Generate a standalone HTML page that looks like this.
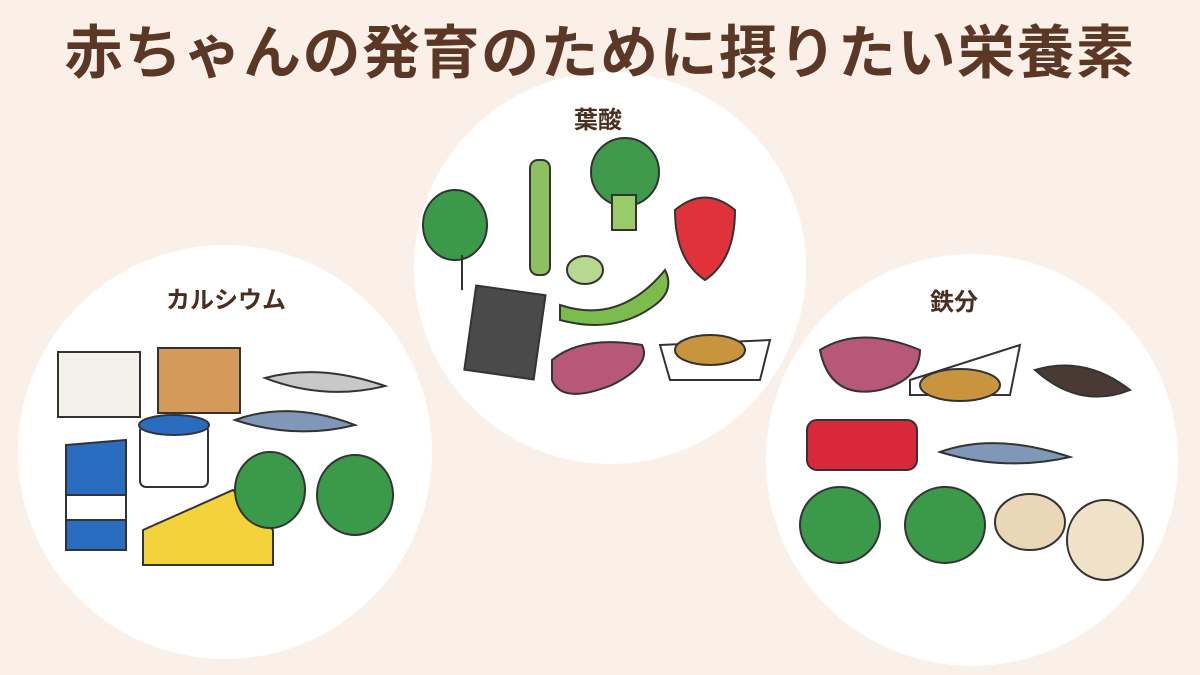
<!DOCTYPE html>
<html><head><meta charset="utf-8"><style>
html,body{margin:0;padding:0;}
body{width:1200px;height:675px;background:#fbf0e8;overflow:hidden;position:relative;font-family:"Liberation Sans","Noto Sans CJK JP",sans-serif;}
h1{position:absolute;top:14px;left:0;width:1200px;text-align:center;margin:0;font-size:58px;font-weight:bold;color:#5b3826;letter-spacing:1.5px;line-height:80px;}
svg{position:absolute;left:0;top:0;}
.lbl{font-family:"Liberation Sans","Noto Sans CJK JP",sans-serif;font-weight:bold;font-size:24px;fill:#4a2e20;}
</style></head><body>
<svg width="1200" height="675" viewBox="0 0 1200 675">
<circle cx="610" cy="268" r="196" fill="#fff"/>
<circle cx="225" cy="452" r="207" fill="#fff"/>
<circle cx="972" cy="460" r="206" fill="#fff"/>
<text class="lbl" x="598" y="128" text-anchor="middle">葉酸</text>
<text class="lbl" x="226" y="308" text-anchor="middle">カルシウム</text>
<text class="lbl" x="954" y="310" text-anchor="middle">鉄分</text>
<g stroke="#333" stroke-width="2">
<ellipse cx="455" cy="225" rx="32" ry="35" fill="#3a9a4a"/>
<line x1="462" y1="255" x2="462" y2="290"/>
<rect x="530" y="160" width="20" height="115" rx="8" fill="#8cc060"/>
<circle cx="625" cy="172" r="34" fill="#3e9a4a"/>
<rect x="612" y="195" width="24" height="35" fill="#9acb6a"/>
<path d="M675 210 q30-25 60 0 q0 50-30 70 q-30-20-30-70z" fill="#e0323a"/>
<ellipse cx="585" cy="270" rx="18" ry="14" fill="#b8d890"/>
<path d="M560 305 q60 20 105-35 q10 20-10 35 q-40 30-95 15z" fill="#7cbc4c"/>
<rect x="470" y="290" width="70" height="85" transform="rotate(8 505 332)" fill="#4a4a4a"/>
<path d="M552 360 q30-25 90-15 q10 20-30 40 q-50 20-60-5z" fill="#b85878"/>
<path d="M660 345 l110 -5 l-10 40 l-90 0z" fill="#fff"/>
<ellipse cx="710" cy="350" rx="35" ry="15" fill="#c8943e"/>
<rect x="58" y="352" width="82" height="65" fill="#f4f1ea"/>
<rect x="158" y="348" width="82" height="65" fill="#d49a5a"/>
<path d="M265 378 q55-15 120 8 q-60 15-120-8z" fill="#c8c8c8"/>
<path d="M235 420 q55-20 120 5 q-60 15-120-5z" fill="#8098b8"/>
<rect x="140" y="425" width="68" height="62" rx="6" fill="#fff"/>
<ellipse cx="174" cy="425" rx="35" ry="10" fill="#2a6cc0"/>
<path d="M66 445 l60 -5 l0 110 l-60 0z" fill="#2a6cc0"/>
<rect x="66" y="495" width="60" height="25" fill="#fff"/>
<path d="M143 530 l90 -40 l40 40 l0 35 l-130 0z" fill="#f4d23a"/>
<ellipse cx="270" cy="490" rx="35" ry="38" fill="#3a9a4a"/>
<ellipse cx="355" cy="495" rx="38" ry="40" fill="#3a9a4a"/>
<path d="M820 350 q40-25 100 0 q0 30-40 40 q-50 10-60-40z" fill="#b85878"/>
<path d="M910 380 l110 -35 l-10 50 l-100 0z" fill="#fff"/>
<ellipse cx="960" cy="385" rx="40" ry="16" fill="#c8943e"/>
<path d="M1035 370 q50-15 95 20 q-50 20-95-20z" fill="#4a3a34"/>
<rect x="807" y="420" width="110" height="50" rx="10" fill="#d8283a"/>
<path d="M940 452 q55-20 130 5 q-65 15-130-5z" fill="#8098b8"/>
<ellipse cx="840" cy="525" rx="40" ry="38" fill="#3a9a4a"/>
<ellipse cx="945" cy="525" rx="40" ry="38" fill="#3a9a4a"/>
<ellipse cx="1030" cy="522" rx="35" ry="28" fill="#ead7b8"/>
<ellipse cx="1105" cy="540" rx="38" ry="40" fill="#f0e2c8"/>
</g>
</svg>
<h1>赤ちゃんの発育のために摂りたい栄養素</h1>
</body></html>
